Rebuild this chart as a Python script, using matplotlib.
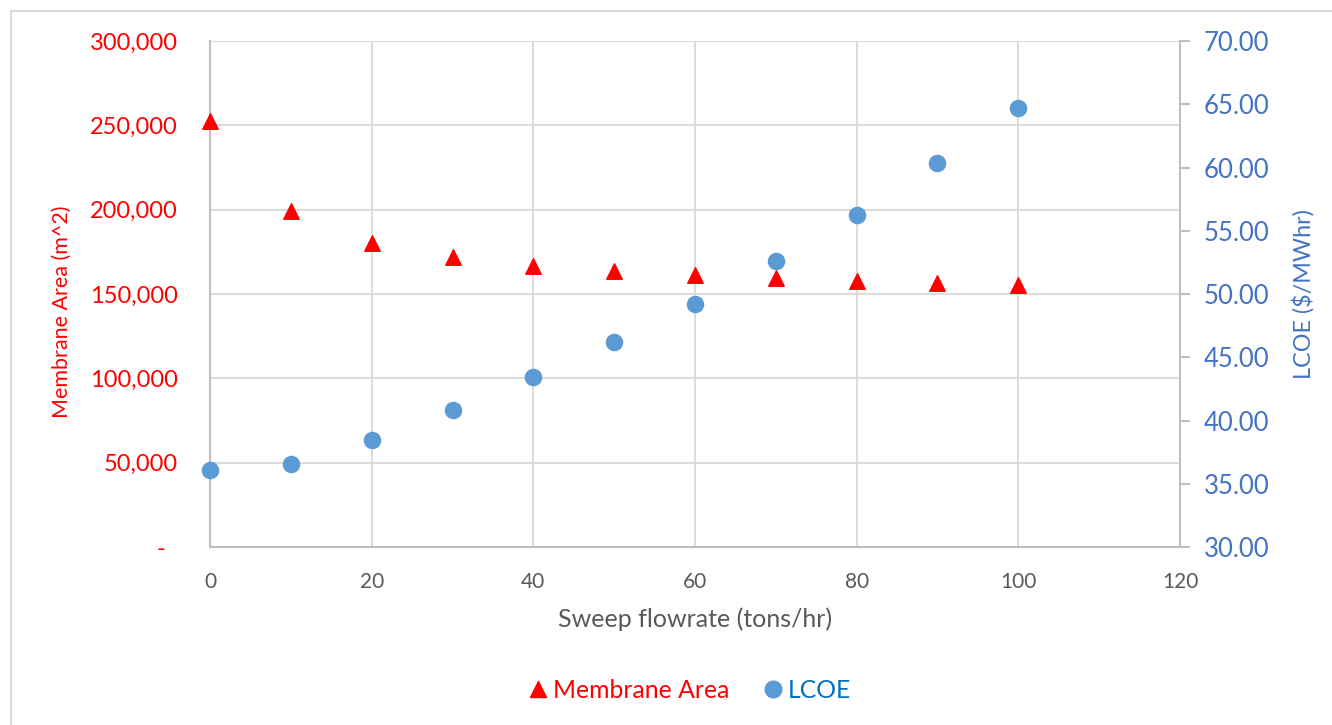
import matplotlib
matplotlib.use('Agg')
import matplotlib.pyplot as plt
from matplotlib.lines import Line2D
from matplotlib.patches import Rectangle

# data
flow = [0, 10, 20, 30, 40, 50, 60, 70, 80, 90, 100]
area = [252500, 199200, 180200, 171900, 166600, 163600, 161300, 159500, 157700, 156500, 155300]
lcoe = [36.09, 36.56, 38.46, 40.83, 43.44, 46.21, 49.21, 52.61, 56.25, 60.36, 64.70]

left_ticks = [0, 50000, 100000, 150000, 200000, 250000, 300000]
left_labels = ['-  ', '50,000', '100,000', '150,000', '200,000', '250,000', '300,000']
right_ticks = [30, 35, 40, 45, 50, 55, 60, 65, 70]
x_ticks = [0, 20, 40, 60, 80, 100, 120]

red = '#FF0000'
blue = '#5B9BD5'
axblue = '#4472C4'
grey = '#595959'
gridc = '#D9D9D9'

plt.rcParams['font.family'] = ['Lato', 'DejaVu Sans']

fig = plt.figure(figsize=(13.32, 7.25), dpi=100)
ax = fig.add_axes([210 / 1332, 1 - 547 / 725, 970 / 1332, 506 / 725])
ax2 = ax.twinx()

# chart border like excel
fig.patches.append(Rectangle((11 / 1332, -0.01), 1.1, 1 - 11 / 725 + 0.01, transform=fig.transFigure,
                             fill=False, edgecolor=gridc, linewidth=1.5))

ax.set_xlim(0, 120)
ax.set_ylim(0, 300000)
ax2.set_ylim(30, 70)

ax.set_xticks(x_ticks)
ax.set_yticks(left_ticks)
ax.set_yticklabels(left_labels)
ax2.set_yticks(right_ticks)
ax2.set_yticklabels(['%.2f' % v for v in right_ticks])

ax.grid(True, color=gridc, linewidth=1.3)
ax.set_axisbelow(True)

for a in (ax, ax2):
    for s in a.spines.values():
        s.set_visible(False)
ax.spines['left'].set_visible(True)
ax.spines['bottom'].set_visible(True)
ax.spines['left'].set_color('#BFBFBF')
ax.spines['bottom'].set_color('#BFBFBF')
ax.spines['left'].set_linewidth(1.5)
ax.spines['bottom'].set_linewidth(1.5)
ax2.spines['right'].set_visible(True)
ax2.spines['right'].set_color('#BFBFBF')
ax2.spines['right'].set_linewidth(1.5)

ax.tick_params(axis='y', length=0, pad=23, labelsize=17, labelcolor=red)
ax.tick_params(axis='x', length=0, pad=18, labelsize=15, labelcolor=grey)
ax2.tick_params(axis='y', length=7, width=1.5, color='#BFBFBF', pad=10, labelsize=18.5, labelcolor=axblue)

ax.set_xlabel('Sweep flowrate (tons/hr)', fontsize=18, color=grey, labelpad=11)
ax.set_ylabel('Membrane Area (m^2)', fontsize=15.5, color=red)
ax.yaxis.set_label_coords(-138 / 970, 0.464)
ax2.set_ylabel('LCOE ($/MWhr)', fontsize=16.8, color=axblue)
ax2.yaxis.set_label_coords(1 + 112 / 970, 0.5)

ax.scatter(flow, area, marker='^', s=125, color=red, zorder=3, clip_on=False)
ax2.scatter(flow, lcoe, marker='o', s=135, color=blue, zorder=3, clip_on=False)

handles = [Line2D([], [], marker='^', linestyle='', color=red, markersize=12),
           Line2D([], [], marker='o', linestyle='', color=blue, markersize=12)]
leg = fig.legend(handles, ['Membrane Area', 'LCOE'], loc='center', bbox_to_anchor=(690 / 1332, 1 - 690 / 725),
                 ncol=2, frameon=False, fontsize=17.8, handlelength=0.7, handletextpad=0.25, columnspacing=1.4)
for t, c in zip(leg.get_texts(), [red, '#0070C0']):
    t.set_color(c)

fig.savefig('out.png', dpi=100)
